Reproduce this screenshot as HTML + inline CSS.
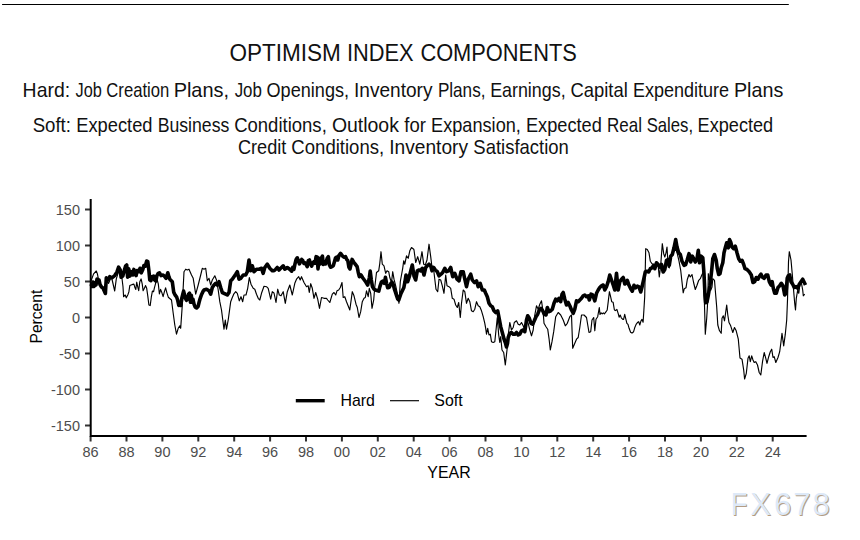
<!DOCTYPE html>
<html><head><meta charset="utf-8"><style>
html,body{margin:0;padding:0;background:#fff;}
body{width:860px;height:540px;overflow:hidden;position:relative;}
svg{position:absolute;left:0;top:0;display:block;}
.t{font-family:"Liberation Sans",Arial,sans-serif;fill:#111;}
.ax{font-family:"Liberation Sans",Arial,sans-serif;}
</style></head><body>
<svg width="860" height="540" viewBox="0 0 860 540">
<rect x="0" y="0" width="860" height="540" fill="#fff"/>
<line x1="2.5" y1="4.5" x2="788.4" y2="4.5" stroke="#000" stroke-width="1.1" stroke-linecap="round"/>
<text class="t" x="229.43" y="60.8" font-size="24.3" textLength="111.42" lengthAdjust="spacingAndGlyphs">OPTIMISM</text>
<text class="t" x="346.89" y="60.8" font-size="24.3" textLength="66.67" lengthAdjust="spacingAndGlyphs">INDEX</text>
<text class="t" x="420.39" y="60.8" font-size="24.3" textLength="156.41" lengthAdjust="spacingAndGlyphs">COMPONENTS</text>
<text class="t" x="22.61" y="96.85" font-size="19.8" textLength="47.49" lengthAdjust="spacingAndGlyphs">Hard:</text>
<text class="t" x="75.55" y="96.85" font-size="19.8" textLength="26.30" lengthAdjust="spacingAndGlyphs">Job</text>
<text class="t" x="106.35" y="96.85" font-size="19.8" textLength="62.95" lengthAdjust="spacingAndGlyphs">Creation</text>
<text class="t" x="173.67" y="96.85" font-size="19.8" textLength="55.39" lengthAdjust="spacingAndGlyphs">Plans,</text>
<text class="t" x="234.64" y="96.85" font-size="19.8" textLength="27.26" lengthAdjust="spacingAndGlyphs">Job</text>
<text class="t" x="266.54" y="96.85" font-size="19.8" textLength="82.56" lengthAdjust="spacingAndGlyphs">Openings,</text>
<text class="t" x="354.04" y="96.85" font-size="19.8" textLength="78.40" lengthAdjust="spacingAndGlyphs">Inventory</text>
<text class="t" x="437.90" y="96.85" font-size="19.8" textLength="47.55" lengthAdjust="spacingAndGlyphs">Plans,</text>
<text class="t" x="490.13" y="96.85" font-size="19.8" textLength="75.49" lengthAdjust="spacingAndGlyphs">Earnings,</text>
<text class="t" x="570.57" y="96.85" font-size="19.8" textLength="57.22" lengthAdjust="spacingAndGlyphs">Capital</text>
<text class="t" x="632.92" y="96.85" font-size="19.8" textLength="96.19" lengthAdjust="spacingAndGlyphs">Expenditure</text>
<text class="t" x="733.98" y="96.85" font-size="19.8" textLength="49.33" lengthAdjust="spacingAndGlyphs">Plans</text>
<text class="t" x="32.65" y="131.8" font-size="19.8" textLength="38.34" lengthAdjust="spacingAndGlyphs">Soft:</text>
<text class="t" x="76.20" y="131.8" font-size="19.8" textLength="76.31" lengthAdjust="spacingAndGlyphs">Expected</text>
<text class="t" x="157.65" y="131.8" font-size="19.8" textLength="71.65" lengthAdjust="spacingAndGlyphs">Business</text>
<text class="t" x="234.16" y="131.8" font-size="19.8" textLength="92.62" lengthAdjust="spacingAndGlyphs">Conditions,</text>
<text class="t" x="331.88" y="131.8" font-size="19.8" textLength="67.04" lengthAdjust="spacingAndGlyphs">Outlook</text>
<text class="t" x="404.34" y="131.8" font-size="19.8" textLength="21.60" lengthAdjust="spacingAndGlyphs">for</text>
<text class="t" x="431.11" y="131.8" font-size="19.8" textLength="89.76" lengthAdjust="spacingAndGlyphs">Expansion,</text>
<text class="t" x="525.91" y="131.8" font-size="19.8" textLength="75.94" lengthAdjust="spacingAndGlyphs">Expected</text>
<text class="t" x="607.01" y="131.8" font-size="19.8" textLength="34.91" lengthAdjust="spacingAndGlyphs">Real</text>
<text class="t" x="646.64" y="131.8" font-size="19.8" textLength="46.45" lengthAdjust="spacingAndGlyphs">Sales,</text>
<text class="t" x="697.61" y="131.8" font-size="19.8" textLength="75.55" lengthAdjust="spacingAndGlyphs">Expected</text>
<text class="t" x="237.88" y="153.7" font-size="19.8" textLength="48.45" lengthAdjust="spacingAndGlyphs">Credit</text>
<text class="t" x="291.36" y="153.7" font-size="19.8" textLength="92.78" lengthAdjust="spacingAndGlyphs">Conditions,</text>
<text class="t" x="389.23" y="153.7" font-size="19.8" textLength="78.78" lengthAdjust="spacingAndGlyphs">Inventory</text>
<text class="t" x="473.36" y="153.7" font-size="19.8" textLength="95.44" lengthAdjust="spacingAndGlyphs">Satisfaction</text>
<g class="ax" font-size="14.5" fill="#4d4d4d" text-anchor="middle"><text x="90.6" y="457.4">86</text><text x="126.5" y="457.4">88</text><text x="162.4" y="457.4">90</text><text x="198.3" y="457.4">92</text><text x="234.2" y="457.4">94</text><text x="270.1" y="457.4">96</text><text x="306" y="457.4">98</text><text x="341.9" y="457.4">00</text><text x="377.8" y="457.4">02</text><text x="413.7" y="457.4">04</text><text x="449.6" y="457.4">06</text><text x="485.5" y="457.4">08</text><text x="521.4" y="457.4">10</text><text x="557.3" y="457.4">12</text><text x="593.2" y="457.4">14</text><text x="629.1" y="457.4">16</text><text x="665" y="457.4">18</text><text x="700.9" y="457.4">20</text><text x="736.8" y="457.4">22</text><text x="772.7" y="457.4">24</text></g>
<g class="ax" font-size="14.5" fill="#4d4d4d" text-anchor="end"><text x="80" y="214.5">150</text><text x="80" y="250.5">100</text><text x="80" y="286.5">50</text><text x="80" y="322.5">0</text><text x="80" y="358.5">-50</text><text x="80" y="394.5">-100</text><text x="80" y="430.5">-150</text></g>
<g stroke="#333" stroke-width="2"><line x1="90.6" y1="436" x2="90.6" y2="441.5"/><line x1="126.5" y1="436" x2="126.5" y2="441.5"/><line x1="162.4" y1="436" x2="162.4" y2="441.5"/><line x1="198.3" y1="436" x2="198.3" y2="441.5"/><line x1="234.2" y1="436" x2="234.2" y2="441.5"/><line x1="270.1" y1="436" x2="270.1" y2="441.5"/><line x1="306" y1="436" x2="306" y2="441.5"/><line x1="341.9" y1="436" x2="341.9" y2="441.5"/><line x1="377.8" y1="436" x2="377.8" y2="441.5"/><line x1="413.7" y1="436" x2="413.7" y2="441.5"/><line x1="449.6" y1="436" x2="449.6" y2="441.5"/><line x1="485.5" y1="436" x2="485.5" y2="441.5"/><line x1="521.4" y1="436" x2="521.4" y2="441.5"/><line x1="557.3" y1="436" x2="557.3" y2="441.5"/><line x1="593.2" y1="436" x2="593.2" y2="441.5"/><line x1="629.1" y1="436" x2="629.1" y2="441.5"/><line x1="665" y1="436" x2="665" y2="441.5"/><line x1="700.9" y1="436" x2="700.9" y2="441.5"/><line x1="736.8" y1="436" x2="736.8" y2="441.5"/><line x1="772.7" y1="436" x2="772.7" y2="441.5"/><line x1="85" y1="209.5" x2="90.5" y2="209.5"/><line x1="85" y1="245.5" x2="90.5" y2="245.5"/><line x1="85" y1="281.5" x2="90.5" y2="281.5"/><line x1="85" y1="317.5" x2="90.5" y2="317.5"/><line x1="85" y1="353.5" x2="90.5" y2="353.5"/><line x1="85" y1="389.5" x2="90.5" y2="389.5"/><line x1="85" y1="425.5" x2="90.5" y2="425.5"/></g>
<g fill="none" stroke="#000" stroke-linejoin="round" stroke-linecap="butt">
<path d="M91,281 L93.6,273.9 L96.3,271 L97.4,273.9 L98.6,280 L100.2,283.3 L102.4,287.8 L103.6,291 L104.7,286.7 L106.3,281 L108.6,283.3 L111.3,276.7 L112.4,281 L114.7,291 L116.3,278.9 L118,273.3 L120.2,270 L121.9,277.8 L123,286.7 L123.6,296.7 L125.2,295 L126.3,297.8 L128,294.4 L128.9,291.7 L129.8,285.6 L131.1,285 L132.8,284.4 L133.9,284.1 L135,287.8 L135.8,289.4 L136.7,282.2 L137.8,287.2 L138.7,290.6 L139.8,281.7 L141.1,278.9 L142.2,283.9 L143.1,290.6 L144.4,288.3 L145.6,285.6 L146.7,288.3 L147.8,296.1 L148.9,305 L150.2,305.6 L151.3,297.2 L152.4,291.1 L153.6,291.7 L154.4,287.8 L156.1,281.7 L157.2,280 L158.3,283.9 L159.4,293.9 L160.6,289.4 L161.7,292.2 L163.1,296.7 L164.4,291.7 L165.6,287.8 L166.9,292.8 L168.3,297.2 L171.5,300 L173.2,313.3 L174.8,325 L176.5,334.2 L178.2,328.3 L179.8,325.8 L180.7,328.3 L182.3,305 L184,271.7 L185.7,269.2 L187.3,270 L189,269.2 L191.5,275 L193.2,278.3 L194.8,288.3 L195.7,294.2 L198.2,285 L200.7,275 L202.3,268.3 L204,269.2 L205.7,268.3 L207.3,280.8 L209,278.3 L210.7,285 L212.3,280 L214.8,275.8 L216.5,280 L218.2,290 L219.8,301.7 L221.5,310 L223.2,323.3 L224,329.2 L225.3,320 L226.5,329.2 L228.2,320 L230.7,301.7 L232,298.3 L233.7,294.2 L235.7,291.7 L237.3,293.3 L239.3,300.8 L241,296.7 L242.7,301.7 L244,295 L246,295 L247.7,288.3 L249.3,277.5 L251,284.2 L253.2,288.3 L254.8,289.2 L256.5,294.2 L258.2,298.3 L259.8,300 L261.5,293.3 L264,286.3 L266.5,286.7 L268.2,288.3 L270.7,299.2 L272.3,291.7 L274,293 L276,302.5 L277.7,289.2 L279.3,295 L281,295.8 L283.2,291.7 L285.3,303.3 L287.3,291.7 L289.8,285 L292.3,295 L294.8,283.3 L296.5,279.2 L298.7,276.7 L300.2,280 L301.5,276.7 L304,282.5 L306.5,286.7 L308.2,285.8 L309.3,292.5 L310.7,283.7 L312.3,288.3 L314,298.3 L315.7,292.5 L317.7,299.2 L319.5,308.3 L321.5,297.5 L324,298.3 L326.5,298.3 L327.7,300 L329.8,302.5 L332.3,294.2 L334,292.5 L335.7,295 L337,290.8 L338.7,290 L340.3,287.5 L342,282.5 L343.2,297.5 L344.8,296.7 L346.5,301.7 L349.8,310 L352.3,291.7 L354,295.8 L356,304.2 L357.3,307.5 L359,317.5 L360.7,311.7 L362.3,301.7 L364,298.3 L365.3,297.5 L366.5,290.8 L368.2,296.7 L369.3,288.3 L370.7,293.3 L372,308.3 L373.7,300 L374.8,286.7 L376.5,272.5 L378.7,270.8 L379.8,263.3 L381,251.7 L382.3,264.2 L384,265.8 L385.7,273.3 L387,270.8 L388.7,271.7 L389.8,277.5 L391.5,282.5 L392.7,271.7 L394,279.2 L395.7,285.8 L397.3,293.3 L399,303.3 L400.3,281.7 L401.5,275 L402.7,268.3 L403.7,260.8 L404.8,264.2 L406.5,255.8 L408.2,258.3 L409.8,250.8 L411.5,247.5 L413.7,249.2 L414,250 L415.7,262.5 L417.7,256.7 L419.8,264.2 L422,251.7 L423.7,264.2 L425.3,265 L427,260 L429,244.2 L430.7,256.7 L432,267.5 L433.7,270 L434.8,279.2 L436,289.2 L437.7,291.7 L439,279.2 L440.7,280 L442.3,285.8 L444,293.3 L445.7,275 L447,285.8 L449,286.7 L450.7,288.3 L452.3,298.3 L454,299.2 L455.7,305 L457.3,307.5 L458.7,302.5 L460.3,317.5 L461.5,303.3 L463.2,290 L464.8,291.7 L466.5,303.3 L468.2,298.3 L469.8,301.7 L471.5,310.8 L473.2,311.7 L474.8,309.2 L476.5,301.7 L478.2,305.8 L479.8,306.7 L481.5,310.8 L483.2,316.7 L484.8,323.3 L485.7,328.3 L486.5,334.2 L487.7,328.3 L489,335 L490.3,334.2 L491.5,341.7 L493.2,342.5 L494.8,341.7 L497.3,317.5 L498.7,335 L499.8,342.5 L500.7,336.7 L502,350 L503.7,352.5 L505.3,365 L507,350 L508.2,335 L509.8,322.5 L511.5,330 L513.2,327.5 L514.3,322.5 L516.5,320.8 L518.2,324.2 L519.8,325 L521.5,322.5 L523.2,325.8 L524.8,330 L526.5,320 L528.2,323.3 L529.8,330 L531.5,335.8 L533.2,330 L534.8,315 L536.5,305.8 L538.2,309.2 L539.8,304.2 L541.5,300.8 L543.2,312.5 L544,323.3 L546,326.7 L547.7,329.2 L549,338.3 L550.3,350 L552,341.7 L553.7,331.7 L555.7,316.7 L558.2,312.5 L560.7,315 L563.2,320 L565.3,325.8 L567.3,323.3 L569.8,316.7 L571.5,315 L572.7,348.3 L574.8,343.3 L576.5,339.2 L578.2,337.5 L579.8,327.5 L581.5,315 L584,315 L586.5,317.5 L589,332.5 L590.7,331.7 L592,320 L593.7,317.5 L594.8,330.8 L596,319.2 L597.7,316.7 L599.3,307.5 L600,314.4 L601.1,312.8 L602.2,313.9 L603.3,312.8 L604.4,313.9 L606.1,311.7 L607.2,310 L608.3,301.1 L609.4,291.7 L610.6,296.7 L611.7,301.7 L613.1,302.2 L614.4,310 L615.6,310.6 L616.9,309.4 L618.3,313.9 L619.1,317.2 L620.2,315 L621.3,317.8 L622.8,319.4 L623.6,319.4 L624.7,314.4 L625.8,318.9 L626.9,323.3 L628,324.4 L629.1,328.3 L630.6,332.2 L632,333.1 L633.6,331.7 L634.7,327.8 L636.1,324.4 L637.8,322.2 L638.7,321.7 L639.8,325 L640.9,321.1 L642,319.4 L643.1,322.2 L643.9,310 L644.7,296.7 L645.7,248.7 L647.3,249.5 L649,252.8 L650.3,261.2 L652,263.7 L653.7,264.5 L654.8,267 L656.5,262 L658.2,266.2 L659.3,277 L660.7,265.3 L662.3,243.7 L663.7,253.7 L664.8,257 L666,252.8 L667,247 L668.2,267 L669.3,267.8 L670.7,259.5 L672.3,253.7 L674,251.2 L675.7,248.7 L677.3,253.7 L679,261.2 L680.7,270.3 L682,282 L683.2,292.8 L684.3,288.7 L686,287.8 L687.3,279.5 L689,274.5 L690.3,277 L692,274.5 L693.7,283 L695.3,289.5 L697,285.3 L698.7,280.3 L700.3,278.7 L701.7,275.3 L703.3,272 L704.5,305.3 L705.3,334.2 L706.7,318.3 L707.8,300 L708.3,273.7 L709.5,280.3 L710.7,290.3 L712,287 L712.8,278.7 L714.5,280.3 L715.3,290.3 L716.7,307 L717.8,325 L719.5,330.8 L721.2,333.3 L722,318.3 L723.3,315.8 L724.5,320.8 L726.7,305 L727.8,315 L729,322.5 L730.7,325.8 L732.8,332.5 L734.5,327.5 L736.2,330.8 L738.3,339.2 L740,358 L742,359.2 L743.7,370 L744.6,379 L746.3,373.3 L748,358.3 L749.2,355.8 L750.3,361.7 L751.7,355.8 L753,360 L754.2,362.5 L755.8,361.7 L757.5,365 L759.2,372.5 L760.8,375 L762.5,361.7 L764.2,352.5 L765.8,358.3 L767,363.3 L768.7,356.7 L770.3,351.7 L771.7,349.2 L773,357.5 L774.2,356.7 L775.8,362.5 L778,357.5 L779.7,351.7 L780.8,343.3 L782,333.3 L783.7,345.8 L785.3,334.2 L786.7,320 L787.5,300 L788.5,261.7 L789.3,251.7 L791,260 L792.2,273.3 L793.3,286.7 L794.7,303.3 L795.5,310 L796.3,298.3 L797.7,290 L798.8,293.3 L800,283.3 L801.3,282.5 L802.7,290 L803.3,295.8 L804.7,294.2" stroke-width="1.15"/>
<path d="M91,284 L92,286.5 L93,282 L94,286.5 L95,283 L96,285 L97,279 L98,282.5 L99,280 L100,284.5 L101.5,287 L103,288 L104.3,291 L105.4,293.5 L106.3,277.8 L108,280 L109.7,276.7 L111.9,277.8 L114.7,275.6 L116.9,272.2 L118.6,267.2 L120.2,270 L121.1,277.2 L122.8,276.1 L123.9,271.7 L125.6,266.1 L126.7,265 L127.6,277.2 L128.7,268.9 L130,276.1 L131.3,271.7 L132.8,275 L133.9,269.4 L135,273.9 L136.1,275.6 L137.2,270.6 L138.7,271.7 L140,268.3 L141.3,272.8 L142.8,269.4 L143.9,265.6 L145.3,266.1 L146.7,261.1 L147.8,261.7 L148.9,270.6 L149.8,280 L150.9,280.6 L152.2,276.7 L153.6,276.1 L154.7,280 L155.8,281.1 L156.9,275.6 L158.3,273.3 L159.4,272.8 L161.1,275.6 L163.1,275 L164.4,276.1 L166.1,278.3 L167.8,272.8 L168.9,276.7 L169.8,279.2 L172.3,281.7 L173.7,292.1 L175.2,295.2 L176.7,297.2 L177.7,300.3 L178.8,305.4 L179.8,304.4 L180.8,305.4 L181.8,298.3 L182.8,294.2 L183.6,291.1 L184.6,295.2 L185.4,298.3 L186.4,300.3 L187.4,299.3 L188.6,294.2 L189.5,293.2 L190.5,302.3 L191.3,295.2 L192,302.3 L193,299.3 L194.1,304.4 L195.1,306.9 L196.6,307.9 L198.1,306.4 L199.1,302.3 L200.2,298.3 L201.7,294.2 L203.2,291.1 L204,290 L206.5,289.2 L209,290.8 L210.7,294.2 L212.3,287.5 L214,285 L215.7,283.3 L217.3,285 L219,281.7 L220.7,287.5 L222.3,292.5 L224,293.3 L225.7,294.2 L227.3,295 L229,292.5 L230.7,280.8 L232.3,279.2 L234,276.7 L235.7,274.2 L237.3,271.7 L239,279.2 L240.7,278.3 L243.2,275 L245.7,275 L247.3,271.7 L249,260 L250.7,270.8 L252.3,265.8 L254,271.7 L256.5,269.2 L259,269.2 L261.5,268.3 L263.2,273.3 L264.8,267.5 L267.3,264.2 L269.8,268.3 L272.3,270.8 L274,270.8 L275.7,269.2 L277.3,267.5 L279,270 L280.7,268.3 L283.2,265.8 L284.8,269.2 L287.3,267.5 L290,269.44 L291.67,271.11 L292.78,267.22 L293.89,269.44 L295,263.89 L296.11,259.44 L297.22,257.78 L298.33,260.56 L299.44,263.89 L300.56,261.67 L301.67,259.44 L302.78,260.56 L303.89,263.33 L305,262.78 L306.11,264.44 L307.22,266.67 L308.33,260.56 L309.44,260 L310.56,263.89 L311.67,266.11 L312.78,262.78 L313.89,261.67 L315,263.33 L316.11,256.67 L317.22,257.22 L318,268.89 L319.11,258.33 L320.22,263.89 L321.33,258.33 L322.44,256.11 L323.33,264.44 L324.44,261.67 L325.56,263.89 L327.22,258.33 L328.33,256.67 L329.44,265 L330.56,267.22 L332,266.67 L333.33,265.56 L334.44,261.67 L335.56,257.78 L336.67,257.22 L337.78,260 L338.89,255.56 L340.56,253.33 L341.67,255 L343.11,256.67 L344.44,257.22 L345.56,256.67 L346.67,259.44 L347.78,260.56 L348.89,267.22 L350,268.89 L352.11,259.44 L353.78,262.22 L355.44,264.44 L357.11,266.67 L358.22,272.22 L359.33,276.67 L361,275 L362.67,277.78 L364.33,280 L366,282.22 L367.67,285 L369.33,277.78 L370.22,271.11 L371.33,280 L372.44,286.67 L373.78,288.89 L375.44,290 L377.11,290.56 L378.78,291.11 L379.89,286.67 L381.33,282.22 L382.67,281.11 L384.33,283.33 L385.44,277.22 L386.56,283.33 L387.67,287.78 L389.33,287.22 L391,283.33 L392.11,282.22 L393.22,284.44 L394.33,288.89 L395.44,292.22 L396.56,295.56 L397.67,298.89 L398.78,300 L399.89,296.67 L401,293.33 L402.11,291.11 L403.78,287.78 L404.89,282.22 L406,275 L407.7,281.7 L409.3,276.7 L411,270 L412.3,265 L414,276 L415.7,280 L417.3,270.8 L419,270 L420.7,270.8 L422.3,268.3 L424,275 L425.7,267.5 L427.3,265.8 L429,264.2 L430.7,265.8 L432,270.8 L433.7,267.5 L435.3,270 L437.3,271.7 L439,275.8 L441,274.2 L442.7,272.5 L444.8,268.3 L446.5,271.7 L448.7,270.8 L450.7,267.5 L452.7,276.7 L454.8,273.3 L457,279.2 L459,280.8 L461,271.7 L463.2,271.7 L464.8,279.2 L466.5,286.7 L468.2,279.2 L470.7,274.2 L472.3,280 L474.3,282.5 L476.5,280.8 L478.2,286.7 L480.2,283.3 L482.3,290 L484.3,290 L485.7,293.3 L487.3,296.7 L489,303.3 L490.7,305.8 L492.3,306.7 L494,310.8 L495.7,312.5 L497.7,310.8 L499.3,319.2 L500.7,326.7 L502.3,332.5 L504,339 L505.3,342.5 L506.5,347 L507.5,343.5 L508.2,337.5 L509.8,333.3 L511.5,332.5 L513.2,334.2 L514.8,334.2 L516.5,332.5 L518.2,335 L519.8,334.2 L521.5,330.8 L523.2,330 L524.8,331.7 L526.5,320 L527.7,315.8 L529.3,318.3 L531,323.3 L532.7,324.2 L534.3,320.8 L536,316.7 L537.7,314.2 L539.3,310 L541,308.3 L542.7,310.8 L544.3,314.2 L546,315 L547.3,307.5 L549,311.7 L550.7,310.8 L552.3,309.2 L554,303.3 L555.7,299.2 L557.3,300.8 L559,298.3 L560.7,301.7 L562,294.2 L563.2,292.5 L564.8,299.2 L566.5,305 L568.2,302.5 L569.8,305.8 L571.5,310 L573.2,313.3 L574.8,309.2 L576.5,300.8 L578.2,301.7 L579.8,300 L581.5,298.3 L583.2,295.8 L584.8,295 L586.5,296.7 L588.2,295.8 L589.3,300 L591,294.2 L592.7,295 L594.8,300.8 L596.5,293.3 L598.2,290 L599.8,287.5 L601.5,285.8 L603.2,285 L604.8,290 L606.5,286.7 L608.2,281.7 L609.8,275 L611.5,280 L613.2,285 L614.8,290 L616.5,273.3 L618.2,290 L619.8,281.7 L621.5,279.2 L623.2,277.5 L624.8,284 L626,283 L627.3,280.3 L629,285.3 L630.7,288.7 L632.3,291.2 L634,285.3 L635.7,287.8 L637.3,286.2 L639,287 L640.7,292 L642,287 L643.7,279.5 L645.3,272 L647,271.2 L648.7,272 L650.3,268.7 L652,267.8 L653.7,265.3 L654.8,268.7 L656.5,262.8 L658.2,264.5 L659.8,267 L661.5,264.5 L663.2,272 L664.8,269.5 L666.5,260.3 L668.2,259.5 L669.3,265.3 L670.7,256.2 L672.3,254.5 L674,247.8 L675.7,239.5 L677,247 L678.7,252.8 L680.3,254.5 L682,261.2 L684,265.3 L685.7,264.5 L687.3,259.5 L689,253.7 L690.7,262 L692.3,256.2 L693.7,258.7 L695.3,262 L697,258.7 L698.3,250.3 L699.5,262.8 L701.2,256.2 L702.8,257.8 L704,273.7 L705,295.3 L705.7,302.8 L707,302 L708.3,295.3 L710,285.3 L711.7,270.3 L712.8,258.7 L714.5,254.5 L716.2,260.3 L717.3,268.7 L718.7,274.5 L720,273.7 L721.2,267.8 L722.8,262.8 L724,252.8 L725.3,247.8 L726.7,242.8 L728.3,247.8 L729.5,239.5 L730.7,242 L732,247 L733.7,248.7 L735.3,246.2 L737,252.8 L738.7,258.7 L740.3,261.2 L742,260.3 L743.7,264.5 L745,268.7 L747,269.5 L748.7,271.2 L749.7,272.5 L751.3,275 L753,282.5 L754.7,281.7 L756.3,277.5 L758,279.2 L759.7,275.8 L761,274.2 L762.7,277.5 L764.3,278.3 L766,275 L767.7,275 L769.3,281.7 L771,285 L772.2,281.7 L773.3,288.3 L774.7,293.3 L776.3,293.3 L778,287.5 L779.7,285.8 L781.3,283.3 L783,285.8 L784.7,295 L786,293.3 L787.2,278.3 L788.3,275.8 L789.7,275 L791,281.7 L792.7,284.2 L794.3,287.5 L796,286.7 L797.7,288.3 L799.3,284.2 L801,281.7 L802.7,279.2 L804.3,282.5 L805.5,285" stroke-width="3.6"/>
</g>
<path d="M90.7,199 V436 H806.6" fill="none" stroke="#000" stroke-width="2"/>
<text class="ax" x="449" y="477.8" font-size="15.9" fill="#000" text-anchor="middle">YEAR</text>
<text class="ax" transform="translate(41.9,316.6) rotate(-90)" font-size="15.7" fill="#000" text-anchor="middle" textLength="53.8" lengthAdjust="spacingAndGlyphs">Percent</text>
<line x1="295.8" y1="400.7" x2="324.7" y2="400.7" stroke="#000" stroke-width="3.4"/>
<text class="ax" x="340.5" y="406" font-size="15.9" fill="#000">Hard</text>
<line x1="390" y1="400.7" x2="419" y2="400.7" stroke="#000" stroke-width="1.15"/>
<text class="ax" x="434.3" y="406" font-size="15.9" fill="#000">Soft</text>
<g class="ax" font-size="31">
<text x="731.8" y="516.2" fill="#b39c84" textLength="16.6" lengthAdjust="spacingAndGlyphs">F</text><text x="751.2 774.9 794.2 813.4" y="516.2" fill="#b39c84">X678</text>
<text x="730.8" y="515.2" fill="#dde9f8" textLength="16.6" lengthAdjust="spacingAndGlyphs">F</text><text x="750.2 773.9 793.2 812.4" y="515.2" fill="#dde9f8">X678</text>
</g>
</svg>
</body></html>
